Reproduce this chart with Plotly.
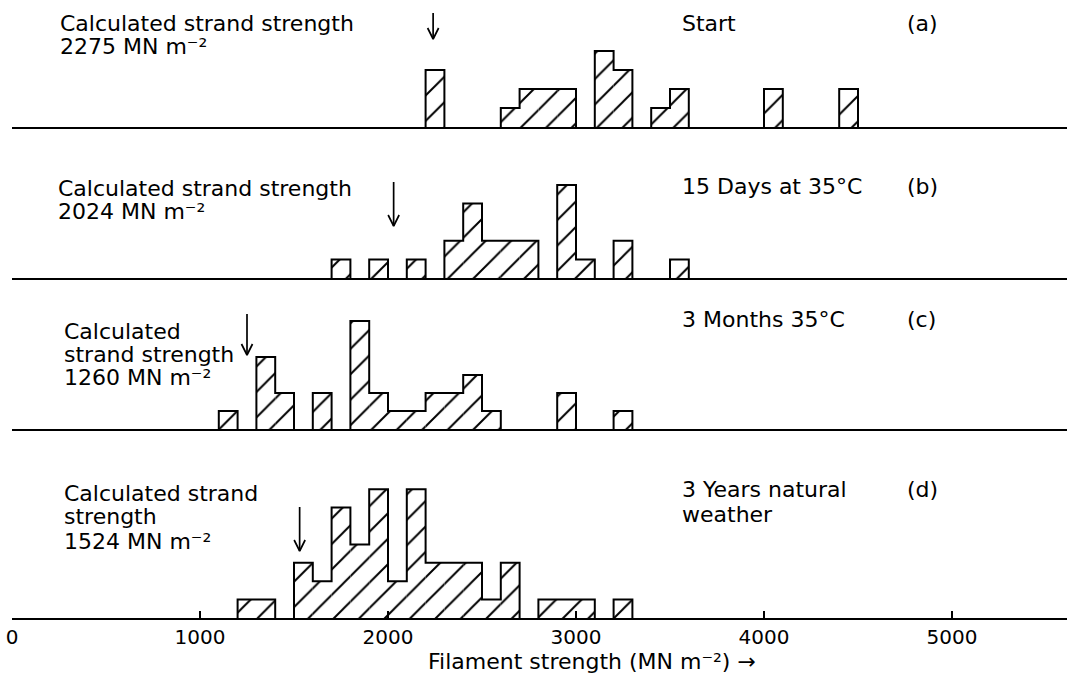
import plotly.graph_objects as go

# ---------------- data ----------------
BIN = 100  # bin width, MN m^-2

bins_a = [2200, 2600, 2700, 2800, 2900, 3100, 3200, 3400, 3500, 4000, 4400]
counts_a = [3, 1, 2, 2, 2, 4, 3, 1, 2, 2, 2]

bins_b = [1700, 1900, 2100, 2300, 2400, 2500, 2600, 2700, 2900, 3000, 3200, 3500]
counts_b = [1, 1, 1, 2, 4, 2, 2, 2, 5, 1, 2, 1]

bins_c = [1100, 1300, 1400, 1600, 1800, 1900, 2000, 2100, 2200, 2300, 2400, 2500, 2900, 3200]
counts_c = [1, 4, 2, 2, 6, 2, 1, 1, 2, 2, 3, 1, 2, 1]

bins_d = [1200, 1300, 1500, 1600, 1700, 1800, 1900, 2000, 2100, 2200, 2300, 2400,
          2500, 2600, 2800, 2900, 3000, 3200]
counts_d = [1, 1, 3, 2, 6, 4, 7, 2, 7, 3, 3, 3, 1, 3, 1, 1, 1, 1]

strand_strength = [2275, 2024, 1260, 1524]          # labelled values
arrow_positions = [2240, 2030, 1250, 1530]          # where the arrows are drawn
panel_labels = ["(a)", "(b)", "(c)", "(d)"]
conditions = [["Start"], ["15 Days at 35°C"], ["3 Months 35°C"], ["3 Years natural", "weather"]]
left_text = [
    ["Calculated strand strength"],
    ["Calculated strand strength"],
    ["Calculated", "strand strength"],
    ["Calculated strand", "strength"],
]
tick_vals = [0, 1000, 2000, 3000, 4000, 5000]
tick_text = ["0", "1000", "2000", "3000", "4000", "5000"]
x_title = "Filament strength (MN m⁻²) →"

# ---------------- layout geometry ----------------
W, H = 1067, 675
ML, MB = 12, 57
PW, PH = W - ML, H - MB
XMAX = (W - ML) / 0.188
FONT = "DejaVu Sans"


def px_x(xpx):
    return (xpx - ML) / PW


def px_y(ypx):
    return (PH - ypx) / PH


# per panel: axis suffix, baseline px, top px, unit px, arrow top px, arrow tip px, text baselines
panels = [
    dict(bins=bins_a, counts=counts_a, ax="4", base=127, top=0, unit=19.0,
         atop=13, atip=39, lx=58, lbase=[32, 55], rbase=[32]),
    dict(bins=bins_b, counts=counts_b, ax="3", base=278, top=129, unit=18.6,
         atop=182, atip=226, lx=56, lbase=[197, 220], rbase=[195]),
    dict(bins=bins_c, counts=counts_c, ax="2", base=429, top=280, unit=18.0,
         atop=314, atip=355, lx=62, lbase=[340, 363, 386], rbase=[328]),
    dict(bins=bins_d, counts=counts_d, ax="", base=618, top=431, unit=18.4,
         atop=507, atip=551, lx=62, lbase=[502, 525, 550], rbase=[498, 523]),
]

fig = go.Figure()
annotations = []


def ann(text, xpx, baseline, anchor="left", size=22):
    annotations.append(dict(
        text=text, x=px_x(xpx), y=px_y(baseline + 6), xref="paper", yref="paper",
        xanchor=anchor, yanchor="bottom", showarrow=False,
        font=dict(family=FONT, size=size, color="black")))


layout_axes = {}
for i, p in enumerate(panels):
    s = p["ax"]
    xa = "x" + s
    ya = "y" + s
    # hatched bars
    fig.add_trace(go.Bar(
        x=[b + BIN / 2 for b in p["bins"]], y=p["counts"], width=BIN,
        marker=dict(color="white", line=dict(width=0),
                    pattern=dict(shape="/", fgcolor="black", bgcolor="white",
                                 fgopacity=1, size=18, solidity=0.11)),
        xaxis=xa, yaxis=ya, showlegend=False, hoverinfo="skip"))
    # step outline of contiguous runs
    xs, ys = [], []
    prev_end = None
    for b, c in zip(p["bins"], p["counts"]):
        if prev_end is None or b != prev_end:
            if prev_end is not None:
                xs += [prev_end, None]
                ys += [0, None]
            xs += [b]
            ys += [0]
        xs += [b, b + BIN]
        ys += [c, c]
        prev_end = b + BIN
    xs += [prev_end]
    ys += [0]
    fig.add_trace(go.Scatter(x=xs, y=ys, mode="lines", line=dict(color="black", width=2),
                             xaxis=xa, yaxis=ya, showlegend=False, hoverinfo="skip"))
    # arrow
    u = p["unit"]
    ax_x = arrow_positions[i]
    ytop = (p["base"] - p["atop"]) / u
    ytip = (p["base"] - p["atip"]) / u
    hw = 5.5 / 0.188
    hh = 11 / u
    fig.add_trace(go.Scatter(
        x=[ax_x, ax_x, None, ax_x - hw, ax_x, ax_x + hw],
        y=[ytop, ytip, None, ytip + hh, ytip, ytip + hh],
        mode="lines", line=dict(color="black", width=1.7),
        xaxis=xa, yaxis=ya, showlegend=False, hoverinfo="skip"))

    # axes
    dom = [px_y(p["base"]), px_y(p["top"])]
    bottom = (s == "")
    layout_axes["xaxis" + s] = dict(
        range=[0, XMAX], domain=[0, 1], anchor="y" + s,
        showline=True, linecolor="black", linewidth=1.7, showgrid=False, zeroline=False,
        ticks="inside" if bottom else "", ticklen=7, tickwidth=1.5, tickcolor="black",
        tickvals=tick_vals if bottom else [], ticktext=tick_text if bottom else [],
        showticklabels=bottom,
        tickfont=dict(family=FONT, size=20, color="black"),
        **({} if bottom else {"matches": "x"}))
    layout_axes["yaxis" + s] = dict(
        domain=dom, range=[0, (p["base"] - p["top"]) / u], visible=False,
        anchor="x" + s, fixedrange=True)

    # texts
    lines = left_text[i] + ["%d MN m⁻²" % strand_strength[i]]
    for t, yb in zip(lines, p["lbase"]):
        ann(t, p["lx"], yb)
    for t, yb in zip(conditions[i], p["rbase"]):
        ann(t, 680, yb)
    ann(panel_labels[i], 905, p["rbase"][0])

ann(x_title, 592, 670, anchor="center", size=22)

fig.update_layout(
    width=W, height=H,
    margin=dict(l=ML, r=0, t=0, b=MB),
    paper_bgcolor="white", plot_bgcolor="white",
    showlegend=False, barmode="overlay",
    annotations=annotations,
    **layout_axes)

fig.write_html("out.html")
